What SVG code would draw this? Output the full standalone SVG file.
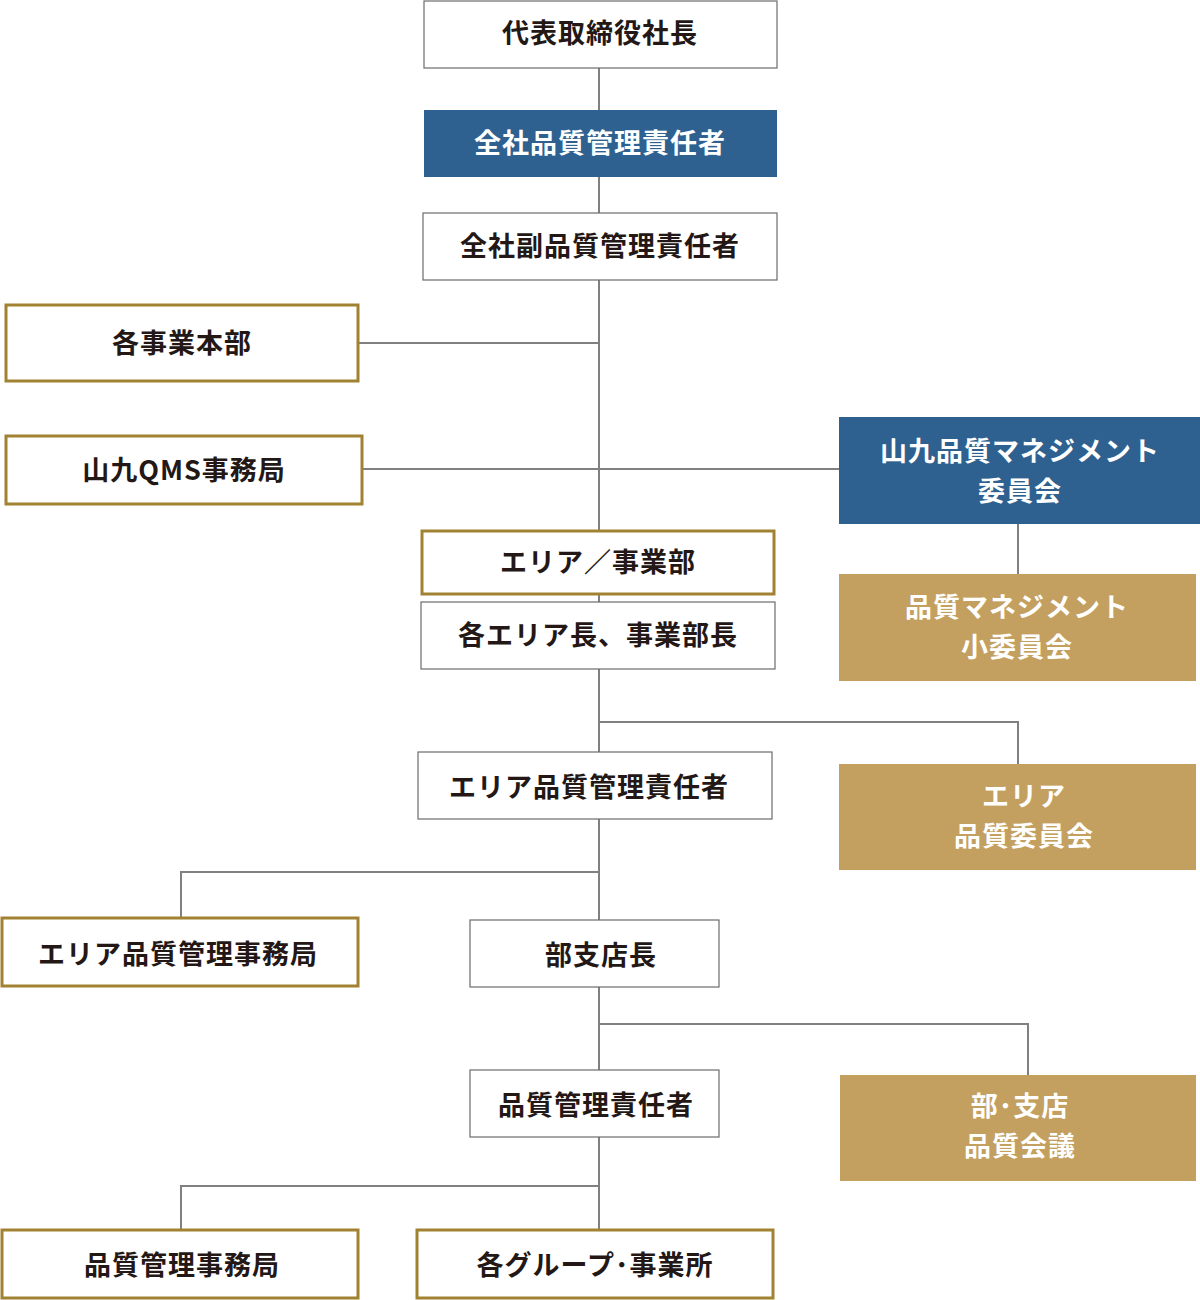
<svg xmlns="http://www.w3.org/2000/svg" width="1200" height="1300" viewBox="0 0 1200 1300">
<style>
text{font-family:"Noto Sans CJK JP","Noto Sans CJK SC",sans-serif;font-weight:bold;font-size:27px;text-anchor:middle;fill:#231815;letter-spacing:1px}
.w{fill:#fff;stroke:#6e6a6a;stroke-width:1.2}
.g{fill:#fff;stroke:#a08232;stroke-width:3}
.b{fill:#2e6190}
.f{fill:#c4a060}
.b+text,.f+text,text.l{fill:#fff}
.c{stroke:#808080;stroke-width:2;fill:none}
</style>
<g id="connectors">
<path class="c" d="M599 68V1230M358 343H599M362 469H839M1018 524V574M599 722H1018V764M599 872H181V918M599 1024H1028V1075M599 1186H181V1230"/>
</g>
<g id="n1"><rect class="w" x="424" y="1" width="353" height="67"/><text x="600" y="43">代表取締役社長</text></g>
<g id="n2"><rect class="b" x="424" y="110" width="353" height="67"/><text class="l" x="600" y="153">全社品質管理責任者</text></g>
<g id="n3"><rect class="w" x="423" y="213" width="354" height="67"/><text x="600" y="256">全社副品質管理責任者</text></g>
<g id="n4"><rect class="g" x="6" y="305" width="352" height="76"/><text x="182" y="353">各事業本部</text></g>
<g id="n5"><rect class="g" x="6" y="436" width="356" height="68"/><text x="184" y="480">山九QMS事務局</text></g>
<g id="n6"><rect class="b" x="839" y="417" width="361" height="107"/><text class="l" x="1020" y="461">山九品質マネジメント</text><text class="l" x="1020" y="501">委員会</text></g>
<g id="n7"><rect class="g" x="422" y="531" width="352" height="63"/><text x="598" y="572">エリア／事業部</text></g>
<g id="n8"><rect class="w" x="421" y="602" width="354" height="67"/><text x="598" y="645">各エリア長、事業部長</text></g>
<g id="n9"><rect class="f" x="839" y="574" width="357" height="107"/><text class="l" x="1017" y="617">品質マネジメント</text><text class="l" x="1017" y="657">小委員会</text></g>
<g id="n10"><rect class="w" x="418" y="752" width="354" height="67"/><text x="589" y="797">エリア品質管理責任者</text></g>
<g id="n11"><rect class="f" x="839" y="764" width="357" height="106"/><text class="l" x="1024" y="806">エリア</text><text class="l" x="1024" y="846">品質委員会</text></g>
<g id="n12"><rect class="g" x="2" y="918" width="356" height="68"/><text x="178" y="964">エリア品質管理事務局</text></g>
<g id="n13"><rect class="w" x="470" y="920" width="249" height="67"/><text x="601" y="965">部支店長</text></g>
<g id="n14"><rect class="f" x="840" y="1075" width="356" height="106"/><text class="l" x="1020" y="1116">部･支店</text><text class="l" x="1020" y="1156">品質会議</text></g>
<g id="n15"><rect class="w" x="470" y="1070" width="249" height="67"/><text x="596" y="1115">品質管理責任者</text></g>
<g id="n16"><rect class="g" x="2" y="1230" width="356" height="68"/><text x="182" y="1275">品質管理事務局</text></g>
<g id="n17"><rect class="g" x="417" y="1230" width="356" height="68"/><text x="595" y="1275">各グループ･事業所</text></g>
</svg>
